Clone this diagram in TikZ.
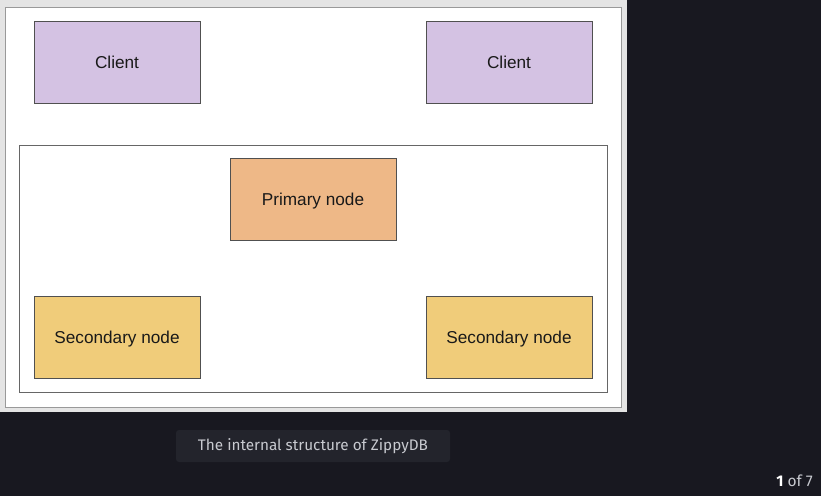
\documentclass[tikz,border=0pt]{standalone}
\usepackage{fontspec}
\setmainfont{Liberation Sans}
\newfontfamily\capfont{Fira Sans}
\definecolor{bgdark}{HTML}{181820}
\definecolor{panelgray}{HTML}{E4E4E4}
\definecolor{lav}{HTML}{D4C2E3}
\definecolor{prim}{HTML}{EEB887}
\definecolor{sec}{HTML}{F0CC7A}
\definecolor{capbg}{HTML}{23242C}
\definecolor{captext}{HTML}{C8CAD0}
\definecolor{edgegray}{HTML}{505050}
\begin{document}
\begin{tikzpicture}[x=1pt,y=-1pt,
  box/.style={draw=edgegray, line width=1pt, minimum width=166pt, minimum height=82pt, inner sep=0pt, text height=12.2pt, text depth=0pt, font=\fontsize{17.2}{20}\selectfont, text=black!90},
]
\useasboundingbox (0,0) rectangle (821,496);
\fill[bgdark] (0,0) rectangle (821,496);
\fill[panelgray] (0,0) rectangle (627,412);
\filldraw[fill=white, draw=gray!80, line width=1pt] (5,7) rectangle (621,407);
\draw[draw=black!60, line width=1pt] (19,145) rectangle (607,392);
\node[box, fill=lav] (c1) at (117,62) {Client};
\node[box, fill=lav] (c2) at (509,62) {Client};
\node[box, fill=prim] (p) at (313,199.5) {Primary node};
\node[box, fill=sec] (s1) at (117,337.5) {Secondary node};
\node[box, fill=sec] (s2) at (509,337.5) {Secondary node};
\fill[capbg, rounded corners=3pt] (176,430) rectangle (450,462);
\node[text=captext, font=\capfont\fontsize{15.3}{18}\selectfont] (cap) at (313,446.5) {The internal structure of ZippyDB};
\node[text=captext, font=\capfont\fontsize{15.5}{18}\selectfont, anchor=east, inner sep=0pt] (pg) at (813,480.5) {\textcolor{white!90}{\bfseries 1} of 7};
\end{tikzpicture}
\end{document}
